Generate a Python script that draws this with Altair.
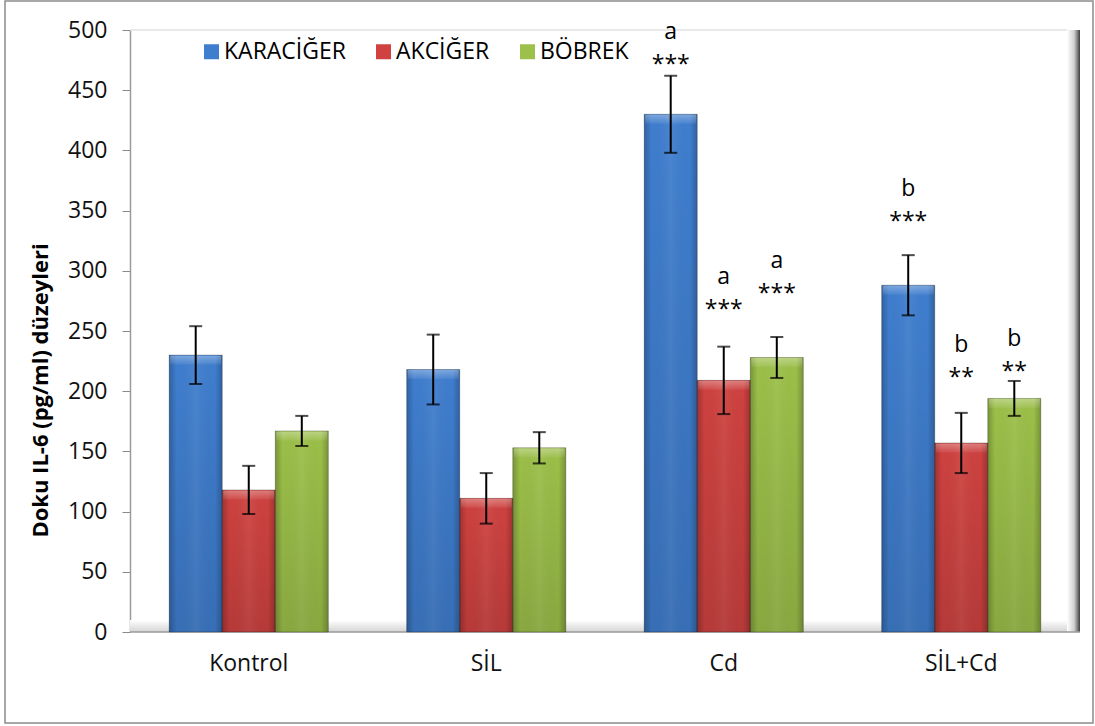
import altair as alt
import pandas as pd

# Tissue IL-6 levels (pg/ml) per treatment group and organ: mean and error
groups = ["Kontrol", "SİL", "Cd", "SİL+Cd"]
organs = ["KARACİĞER", "AKCİĞER", "BÖBREK"]

liver_mean = [230, 218, 430, 288]
liver_err = [24, 29, 32, 25]
lung_mean = [118, 111, 209, 157]
lung_err = [20, 21, 28, 25]
kidney_mean = [167, 153, 228, 194]
kidney_err = [12.5, 13, 17, 14.5]

# significance annotations (group, organ, letter, stars)
sig_group = ["Cd", "Cd", "Cd", "SİL+Cd", "SİL+Cd", "SİL+Cd"]
sig_organ = ["KARACİĞER", "AKCİĞER", "BÖBREK", "KARACİĞER", "AKCİĞER", "BÖBREK"]
sig_letter = ["a", "a", "a", "b", "b", "b"]
sig_stars = ["***", "***", "***", "***", "**", "**"]
# layout: pixel lift of the star row above the error bar cap
sig_lift_px = [17, 43, 49, 39, 41, 15]
LETTER_GAP_PX = 27

colors = ["#3F7ECF", "#CF4240", "#9CC049"]
FONT = "Open Sans"
W, H = 950, 602
Y_MAX = 500
PX = Y_MAX / H  # data units per pixel

rows = []
for organ, means, errs in zip(organs, [liver_mean, lung_mean, kidney_mean],
                              [liver_err, lung_err, kidney_err]):
    for g, m, e in zip(groups, means, errs):
        rows.append({"group": g, "organ": organ, "mean": m,
                     "lo": m - e, "hi": m + e})
df = pd.DataFrame(rows)

tops = {(r["group"], r["organ"]): r["hi"] for r in rows}
ann = pd.DataFrame({
    "group": sig_group,
    "organ": sig_organ,
    "letter": sig_letter,
    "stars": sig_stars,
    "top": [tops[(g, o)] for g, o in zip(sig_group, sig_organ)],
    "lift": sig_lift_px,
})
ann["star_y"] = ann["top"] + ann["lift"] * PX
ann["letter_y"] = ann["top"] + (ann["lift"] + LETTER_GAP_PX) * PX

x_enc = alt.X("group:N", sort=groups, title=None,
              scale=alt.Scale(paddingInner=0.33, paddingOuter=0.165),
              axis=alt.Axis(labelAngle=0, labelFontSize=23, labelFont=FONT,
                            labelColor="#111", labelPadding=20,
                            ticks=False, domain=False))
xo_enc = alt.XOffset("organ:N", sort=organs,
                     scale=alt.Scale(paddingInner=0, paddingOuter=0))
y_scale = alt.Scale(domain=[0, Y_MAX], nice=False)

base = alt.Chart(df)

bars = base.mark_bar().encode(
    x=x_enc,
    xOffset=xo_enc,
    y=alt.Y("mean:Q", scale=y_scale,
            axis=alt.Axis(values=list(range(0, 501, 50)), grid=False,
                          domainColor="#9a9a9a", domainWidth=1.5,
                          tickColor="#8a8a8a", tickSize=8,
                          labelFontSize=23, labelFont=FONT, labelColor="#111",
                          labelPadding=15,
                          title="Doku IL-6 (pg/ml) düzeyleri",
                          titleFont=FONT, titleFontSize=22,
                          titleFontWeight="bold", titleColor="black",
                          titleX=-90, titleY=360, titleAngle=270,
                          titleAlign="center", titleBaseline="middle")),
    color=alt.Color("organ:N", sort=organs,
                    scale=alt.Scale(domain=organs, range=colors),
                    legend=alt.Legend(orient="none", legendX=70, legendY=10,
                                      direction="horizontal", title=None,
                                      symbolType="square", symbolSize=225,
                                      symbolStrokeWidth=0,
                                      labelFontSize=23, labelFont=FONT,
                                      labelColor="black", labelOffset=1,
                                      columnPadding=26, padding=0)),
)

# side shading of each bar
edge_shade = base.mark_bar(
    fill=alt.Gradient(gradient="linear", x1=0, x2=1, y1=0, y2=0, stops=[
        alt.GradientStop(color="rgba(0,0,0,0.22)", offset=0),
        alt.GradientStop(color="rgba(0,0,0,0)", offset=0.14),
        alt.GradientStop(color="rgba(255,255,255,0.06)", offset=0.5),
        alt.GradientStop(color="rgba(0,0,0,0)", offset=0.86),
        alt.GradientStop(color="rgba(0,0,0,0.22)", offset=1),
    ]),
    stroke="rgba(0,0,0,0.25)", strokeWidth=1,
).encode(x=x_enc, xOffset=xo_enc, y=alt.Y("mean:Q", scale=y_scale))

# darkening toward the floor
depth_shade = base.mark_bar(
    fill=alt.Gradient(gradient="linear", x1=0, x2=0, y1=0, y2=1, stops=[
        alt.GradientStop(color="rgba(0,0,0,0)", offset=0),
        alt.GradientStop(color="rgba(0,0,0,0.12)", offset=1),
    ]),
).encode(x=x_enc, xOffset=xo_enc, y=alt.Y("mean:Q", scale=y_scale))

# light bevel along each bar top
bevel = base.mark_tick(
    size=51, thickness=9, yOffset=5,
    fill=alt.Gradient(gradient="linear", x1=0, x2=0, y1=0, y2=1, stops=[
        alt.GradientStop(color="rgba(255,255,255,0.45)", offset=0),
        alt.GradientStop(color="rgba(255,255,255,0.08)", offset=1),
    ]),
).encode(x=x_enc, xOffset=xo_enc, y=alt.Y("mean:Q", scale=y_scale))

err_rule = base.mark_rule(color="black", strokeWidth=2).encode(
    x=x_enc, xOffset=xo_enc,
    y=alt.Y("lo:Q", scale=y_scale), y2="hi:Q")
cap_lo = base.mark_tick(color="black", size=13, thickness=2).encode(
    x=x_enc, xOffset=xo_enc, y=alt.Y("lo:Q", scale=y_scale))
cap_hi = base.mark_tick(color="black", size=13, thickness=2).encode(
    x=x_enc, xOffset=xo_enc, y=alt.Y("hi:Q", scale=y_scale))

ann_base = alt.Chart(ann)
stars = ann_base.mark_text(font=FONT, fontSize=23, color="black",
                           baseline="middle", dy=6).encode(
    x=x_enc, xOffset=xo_enc, y=alt.Y("star_y:Q", scale=y_scale),
    text="stars:N")
letters = ann_base.mark_text(font=FONT, fontSize=23, color="black",
                             baseline="middle").encode(
    x=x_enc, xOffset=xo_enc, y=alt.Y("letter_y:Q", scale=y_scale),
    text="letter:N")

# plot-area frame: floor, back wall edge, top edge, outer border
one = alt.Chart(pd.DataFrame({"k": [0]}))
floor = one.mark_rect(
    fill=alt.Gradient(gradient="linear", x1=0, x2=0, y1=0, y2=1, stops=[
        alt.GradientStop(color="#ffffff", offset=0),
        alt.GradientStop(color="#d4d4d4", offset=1),
    ])).encode(x=alt.value(0), x2=alt.value(W), y=alt.value(H - 12),
               y2=alt.value(H))
floor_line = one.mark_rule(color="#9a9a9a", strokeWidth=1.5).encode(
    x=alt.value(0), x2=alt.value(W), y=alt.value(H))
wall = one.mark_rect(
    fill=alt.Gradient(gradient="linear", x1=0, x2=1, y1=0, y2=0, stops=[
        alt.GradientStop(color="#ffffff", offset=0),
        alt.GradientStop(color="#d0d0d0", offset=0.55),
        alt.GradientStop(color="#3e3e3e", offset=1),
    ])).encode(x=alt.value(W - 13), x2=alt.value(W), y=alt.value(0),
               y2=alt.value(H))
top_line = one.mark_rule(color="#e2e2e2", strokeWidth=1.5).encode(
    x=alt.value(0), x2=alt.value(W - 13), y=alt.value(0))
border = one.mark_rect(fill=None, stroke="#8c8c8c", strokeWidth=1.5).encode(
    x=alt.value(-125), x2=alt.value(963), y=alt.value(-29), y2=alt.value(693))

chart = alt.layer(
    floor, wall, top_line, floor_line,
    bars, edge_shade, depth_shade, bevel,
    err_rule, cap_lo, cap_hi, stars, letters, border,
).properties(
    width=W, height=H,
    autosize=alt.AutoSizeParams(type="none"),
    padding={"left": 130, "top": 30, "right": 15, "bottom": 94},
    background="white",
).configure_view(stroke=None)

chart.save("out.html", embed_options={"renderer": "svg", "actions": False})
